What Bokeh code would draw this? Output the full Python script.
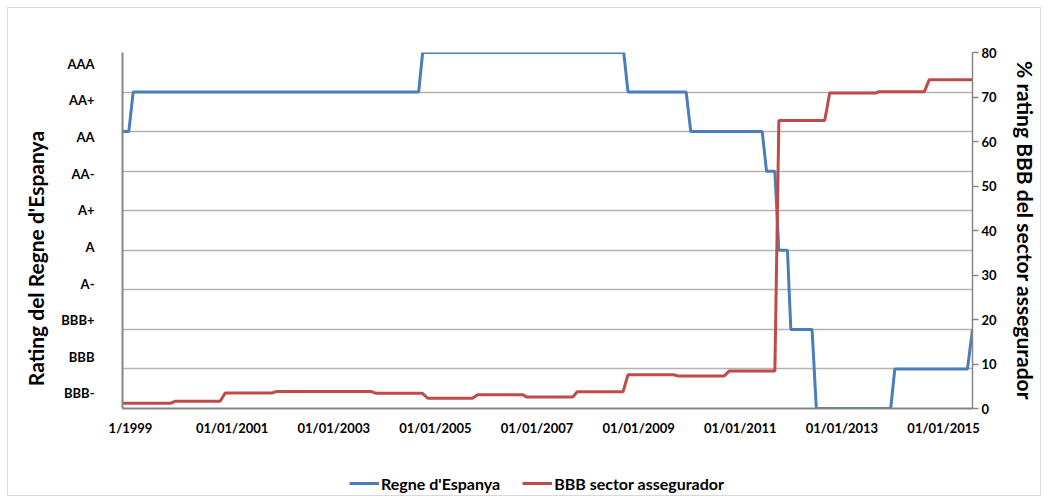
import numpy as np
from bokeh.plotting import figure
from bokeh.layouts import column
from bokeh.models import Range1d, LinearAxis, FixedTicker, Legend, LegendItem
from bokeh.embed import file_html
from bokeh.resources import INLINE

# ---------------- data ----------------
ratings = ["BBB-", "BBB", "BBB+", "A-", "A", "A+", "AA-", "AA", "AA+", "AAA"]

spain_dates = [1998.843, 1998.967, 1999.053, 2004.671, 2004.749, 2008.706, 2008.790,
               2009.935, 2010.025, 2011.431, 2011.516, 2011.680, 2011.758, 2011.928,
               2011.994, 2012.412, 2012.496, 2013.960, 2014.040, 2015.470, 2015.569]
spain_rating = ["AA", "AA", "AA+", "AA+", "AAA", "AAA", "AA+",
                "AA+", "AA", "AA", "AA-", "AA-", "A", "A",
                "BBB+", "BBB+", "BBB-", "BBB-", "BBB", "BBB", "BBB+"]

sector_dates = [1998.843, 1999.798, 1999.882, 2000.765, 2000.863, 2001.798, 2001.863,
                2003.739, 2003.824, 2004.739, 2004.849, 2005.731, 2005.829, 2006.725,
                2006.790, 2007.706, 2007.790, 2008.692, 2008.790, 2009.686, 2009.784,
                2010.686, 2010.778, 2011.680, 2011.759, 2012.661, 2012.759, 2013.673,
                2013.725, 2014.621, 2014.719, 2015.569]
sector_pct = [1.2, 1.2, 1.65, 1.65, 3.5, 3.5, 3.8,
              3.8, 3.45, 3.45, 2.3, 2.3, 3.1, 3.1,
              2.6, 2.6, 3.75, 3.75, 7.6, 7.6, 7.3,
              7.3, 8.4, 8.4, 64.7, 64.7, 70.9, 70.9,
              71.2, 71.2, 73.9, 73.9]

x_tick_years = [1999, 2001, 2003, 2005, 2007, 2009, 2011, 2013, 2015]
x_tick_labels = ["1/1999", "01/01/2001", "01/01/2003", "01/01/2005", "01/01/2007",
                 "01/01/2009", "01/01/2011", "01/01/2013", "01/01/2015"]
pct_ticks = [0, 10, 20, 30, 40, 50, 60, 70, 80]
series_names = ["Regne d'Espanya", "BBB sector assegurador"]
left_title = "Rating del Regne d'Espanya"
right_title = "% rating BBB del sector assegurador"

# ---------------- styling ----------------
FONT = "Lato"
BLUE = "#4a7ebb"
RED = "#be4b48"
AXIS_GRAY = "#868686"
GRID_GRAY = "#b3b3b3"

spain_level = [ratings.index(r) for r in spain_rating]

p = figure(width=1032, height=457, output_backend="svg", toolbar_location=None,
           x_range=Range1d(min(spain_dates), max(spain_dates)),
           y_range=Range1d(0, len(ratings) - 1),
           min_border_left=114, min_border_right=65, min_border_top=44,
           min_border_bottom=57)
p.extra_y_ranges = {"pct": Range1d(0, 80)}
p.outline_line_color = None
p.background_fill_color = "white"
p.border_fill_color = "white"

# grid
p.xgrid.visible = False
p.ygrid.ticker = FixedTicker(ticks=list(range(len(ratings))))
p.ygrid.grid_line_color = GRID_GRAY
p.ygrid.grid_line_width = 1.5

# x axis
xa = p.xaxis[0]
xa.ticker = FixedTicker(ticks=x_tick_years)
xa.major_label_overrides = {y: l for y, l in zip(x_tick_years, x_tick_labels)}
xa.axis_line_color = AXIS_GRAY
xa.axis_line_width = 2
xa.major_tick_line_color = None
xa.minor_tick_line_color = None
xa.major_label_standoff = 5
xa.major_label_text_font = FONT
xa.major_label_text_font_style = "bold"
xa.major_label_text_font_size = "13px"
xa.major_label_text_color = "black"

# left axis (rating labels evenly spread)
label_pos = [round(v, 3) for v in np.linspace(0.38, 8.72, len(ratings))]
ya = p.yaxis[0]
ya.ticker = FixedTicker(ticks=label_pos)
ya.major_label_overrides = {v: r for v, r in zip(label_pos, ratings)}
ya.axis_line_color = AXIS_GRAY
ya.axis_line_width = 2
ya.major_tick_line_color = None
ya.minor_tick_line_color = None
ya.major_label_standoff = 22
ya.major_label_text_font = FONT
ya.major_label_text_font_style = "bold"
ya.major_label_text_font_size = "13px"
ya.major_label_text_color = "black"
# trailing no-break spaces push the rotated title slightly lower, as in the original
ya.axis_label = left_title + "\u00a0" * 11
ya.axis_label_text_font = FONT
ya.axis_label_text_font_style = "bold"
ya.axis_label_text_font_size = "21px"
ya.axis_label_text_color = "black"
ya.axis_label_standoff = 10

# right axis
ra = LinearAxis(y_range_name="pct", ticker=FixedTicker(ticks=pct_ticks))
ra.axis_line_color = AXIS_GRAY
ra.axis_line_width = 1.5
ra.major_tick_line_color = AXIS_GRAY
ra.major_tick_line_width = 1.5
ra.major_tick_out = 6
ra.major_tick_in = 0
ra.minor_tick_line_color = None
ra.major_label_standoff = 3
ra.major_label_text_font = FONT
ra.major_label_text_font_style = "bold"
ra.major_label_text_font_size = "13px"
ra.major_label_text_color = "black"
ra.axis_label = right_title
ra.axis_label_text_font = FONT
ra.axis_label_text_font_style = "bold"
ra.axis_label_text_font_size = "21px"
ra.axis_label_text_color = "black"
ra.axis_label_standoff = 13
p.add_layout(ra, "right")

# lines
r_blue = p.line(spain_dates, spain_level, line_color=BLUE, line_width=3)
r_red = p.line(sector_dates, sector_pct, y_range_name="pct", line_color=RED, line_width=3)

# legend strip below the chart
leg = figure(width=1032, height=30, output_backend="svg", toolbar_location=None,
             x_range=Range1d(0, 1), y_range=Range1d(0, 1),
             min_border=0, x_axis_type=None, y_axis_type=None)
leg.outline_line_color = None
leg.grid.visible = False
leg.border_fill_color = "white"
nan = float("nan")
lb = leg.line(x=[0], y=[nan], line_color=BLUE, line_width=3)
lr = leg.line(x=[0], y=[nan], line_color=RED, line_width=3)
legend = Legend(items=[LegendItem(label=series_names[0], renderers=[lb]),
                       LegendItem(label=series_names[1], renderers=[lr])],
                orientation="horizontal", location=(227, 2),
                padding=0, margin=0, spacing=22, glyph_width=30, glyph_height=20,
                label_standoff=2, border_line_color=None, background_fill_alpha=0,
                label_text_font=FONT, label_text_font_style="bold",
                label_text_font_size="16px", label_text_color="black")
leg.add_layout(legend, "center")

layout = column(p, leg, spacing=0,
                styles={"border": "1px solid #d9d9d9", "margin": "7px"})

open("out.html", "w").write(file_html(layout, INLINE))
